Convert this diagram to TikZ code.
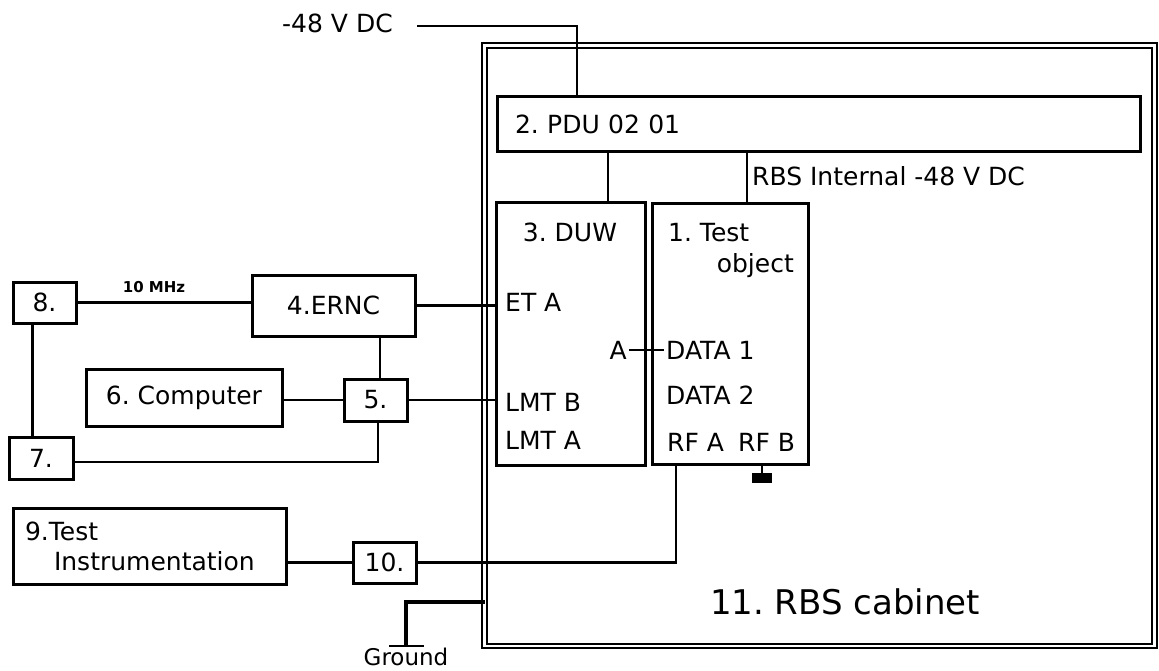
\documentclass[tikz,border=0pt]{standalone}
\usepackage{fontspec}
\setmainfont{DejaVu Sans}
\usepackage{tikz}
\frenchspacing

\begin{document}
\begin{tikzpicture}[x=1pt, y=-1pt,
    font=\fontsize{25}{30}\selectfont,
    unit/.style={draw, line width=3pt, rectangle, inner sep=0pt, outer sep=0pt},
    wire/.style={line width=2.5pt},
    tag/.style={inner sep=2pt, text height=18pt, text depth=0pt}]
    \useasboundingbox (0,0) rectangle (1159,671);

    % RBS cabinet (double frame)
    \node[draw, double, double distance=2.6pt, line width=1.8pt, inner sep=0pt, outer sep=0pt,
          minimum width=670pt, minimum height=600.5pt] (cab) at (819.5,345.75) {};
    \node[tag, font=\fontsize{34}{40}\selectfont, text height=25pt] (cabname) at (845,602) {11. RBS cabinet};

    % Power distribution and feed
    \node[unit, minimum width=643pt, minimum height=55pt, text width=607pt, inner xsep=18pt, align=left] (pdu) at (818.5,124.5) {2. PDU 02 01};
    \node[tag, anchor=west] (dcin) at (280,24) {-48 V DC};
    \coordinate (dcend) at (417,26);
    \draw[wire] (dcend) -| ([xshift=80pt]pdu.north west);

    % DUW and test object
    \node[unit, minimum width=149pt, minimum height=262pt] (duw) at (570.5,334) {};
    \node[unit, minimum width=156pt, minimum height=260pt] (tobj) at (730,334) {};
    \draw[wire] ([xshift=37.5pt]duw.north) -- ([xshift=37.5pt]duw.north |- pdu.south);
    \draw[wire] ([xshift=17pt]tobj.north) -- ([xshift=17pt]tobj.north |- pdu.south);
    \node[tag, anchor=west] (intdc) at (750,177) {RBS Internal -48 V DC};

    \node[tag] (duwname) at (570,232) {3. DUW};
    \node[tag, anchor=west] (etA) at (503,302) {ET A};
    \node[tag, anchor=east] (duwA) at (629,350) {A};
    \node[tag, anchor=west] (lmtB) at (503,402) {LMT B};
    \node[tag, anchor=west] (lmtA) at (503,440) {LMT A};

    \node[tag, anchor=west] (tobjname) at (666,232) {1. Test};
    \node[tag, anchor=east] (tobjname2) at (796,263) {object};
    \node[tag, anchor=west] (data1) at (664,350) {DATA 1};
    \node[tag, anchor=west] (data2) at (664,395) {DATA 2};
    \node[tag, anchor=west] (rfA) at (665,442) {RF A};
    \node[tag, anchor=west] (rfB) at (736,442) {RF B};
    \draw[wire] (duwA.east) -- (data1.west);

    % RF B terminated to ground
    \draw[wire] ([xshift=32pt]tobj.south) -- ++(0,9) coordinate (rfbgnd);
    \fill ([xshift=-10pt]rfbgnd) rectangle ([xshift=10pt,yshift=-10pt]rfbgnd);

    % Outside units
    \node[unit, minimum width=163pt, minimum height=61pt] (ernc) at (333.5,305.5) {4.ERNC};
    \node[unit, minimum width=63pt, minimum height=41pt] (u8) at (44.5,302.5) {8.};
    \node[unit, minimum width=64pt, minimum height=42pt] (u7) at (41,458) {7.};
    \node[unit, minimum width=196pt, minimum height=57pt] (pc) at (184,397.5) {6. Computer};
    \node[unit, minimum width=63pt, minimum height=42pt] (u5) at (375.5,400) {5.};
    \node[unit, minimum width=273pt, minimum height=76pt, text width=249pt, inner xsep=12pt, align=left] (instr) at (149.5,546) {9.Test\\\hspace*{29pt}Instrumentation};
    \node[unit, minimum width=63pt, minimum height=41pt] (u10) at (384.5,562.5) {10.};

    % Clock, O&M and RF wiring
    \draw[wire] (u8.east) -- (u8.east -| ernc.west);
    \node[font=\bfseries\fontsize{15}{18}\selectfont, inner sep=0pt] (mhz) at (154,287) {10 MHz};
    \draw[wire, line width=3pt] ([xshift=-12.5pt]u8.south) -- ([xshift=-12.5pt]u8.south |- u7.north);
    \draw[wire] (ernc.east) -- (ernc.east -| duw.west);
    \draw[wire] ([xshift=4.5pt]u5.north) -- ([xshift=4.5pt]u5.north |- ernc.south);
    \draw[wire] (pc.east |- u5.west) -- (u5.west);
    \draw[wire] (u5.east) -- (u5.east -| duw.west);
    \draw[wire] ([xshift=2.5pt]u5.south) |- ([yshift=-4pt]u7.east);
    \draw[wire] ([xshift=-54pt]tobj.south) |- (u10.east);
    \draw[wire] (u10.west) -- (u10.west -| instr.east);

    % Cabinet ground
    \coordinate (gndtap) at (406,602);
    \coordinate (gndbar) at (406,646);
    \draw[wire, line width=3.5pt] (cab.west |- gndtap) -- (gndtap) -- (gndbar);
    \draw[wire] ([xshift=-17pt]gndbar) -- ([xshift=18pt]gndbar);
    \node[inner sep=0pt, font=\fontsize{23}{28}\selectfont] (gnd) at (406,657) {Ground};

\end{tikzpicture}
\end{document}
